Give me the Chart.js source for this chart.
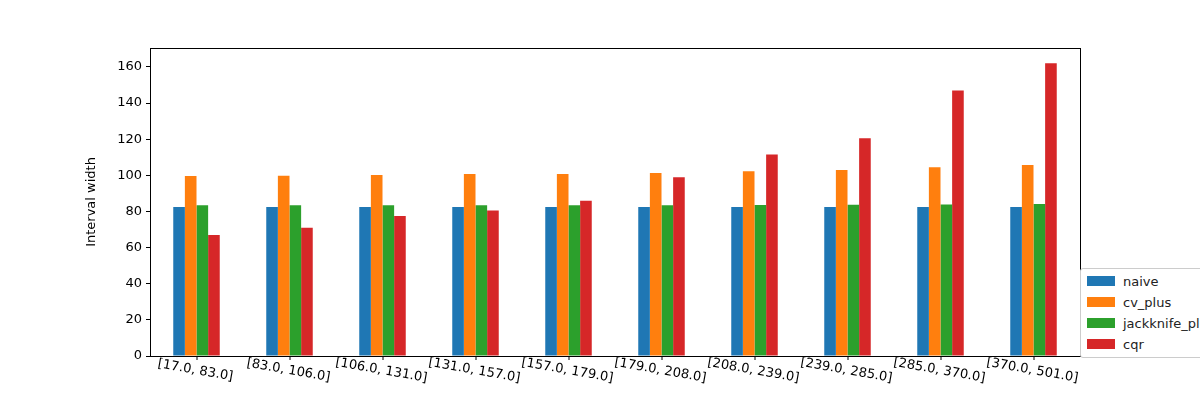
<!DOCTYPE html>
<html><head><script src="https://cdn.jsdelivr.net/npm/chart.js@4"></script>
<style>body{margin:0;width:1200px;height:400px;overflow:hidden;position:relative;font-family:"DejaVu Sans"}
#lg{position:absolute;left:1080px;top:268px;width:140px;height:88px;border:1px solid #ccc;border-radius:3px;background:#fff;font-size:13px;color:#222}
.it{position:absolute;left:6px;height:16px;display:flex;align-items:center;white-space:nowrap}
.sw{width:28px;height:10px;margin-right:8px}</style></head>
<body><canvas id="c" width="1200" height="400"></canvas><div id="lg"></div>
<script>
const categories=["[17.0, 83.0]","[83.0, 106.0]","[106.0, 131.0]","[131.0, 157.0]","[157.0, 179.0]","[179.0, 208.0]","[208.0, 239.0]","[239.0, 285.0]","[285.0, 370.0]","[370.0, 501.0]"];
const naive=[82.5,82.5,82.5,82.5,82.5,82.5,82.5,82.5,82.5,82.5];
const cv_plus=[99.7,99.8,100.2,100.8,100.8,101.3,102.3,103,104.5,105.8];
const jackknife_plus=[83.5,83.5,83.5,83.5,83.5,83.5,83.6,83.7,83.8,84.1];
const cqr=[67,71,77.5,80.5,86,99,111.5,120.5,147,162];
const yTicks=[0,20,40,60,80,100,120,140,160];
const names=["naive","cv_plus","jackknife_plus","cqr"];
const colors=["#1f77b4","#ff7f0e","#2ca02c","#d62728"];
const series=[naive,cv_plus,jackknife_plus,cqr];
const lg=document.getElementById('lg');
names.forEach((n,i)=>{const d=document.createElement('div');d.className='it';d.style.top=(4+i*21)+'px';d.innerHTML='<span class="sw" style="background:'+colors[i]+'"></span>'+n;lg.appendChild(d);});
Chart.defaults.font.family="DejaVu Sans";Chart.defaults.color="#000";
const deco={id:'deco',afterDraw(ch){const c=ch.ctx,a=ch.chartArea,x=ch.scales.x;
c.save();c.strokeStyle='#000';c.lineWidth=1;c.strokeRect(Math.round(a.left)+.5,Math.round(a.top)+.5,Math.round(a.width),Math.round(a.height));
c.font='13px DejaVu Sans';c.fillStyle='#000';c.textAlign='center';c.textBaseline='top';
categories.forEach((l,i)=>{const px=x.getPixelForValue(i);c.beginPath();c.moveTo(px+.5,a.bottom);c.lineTo(px+.5,a.bottom+4);c.stroke();
c.save();c.translate(px,a.bottom+8);c.rotate(10*Math.PI/180);c.fillText(l,0,0);c.restore();});
c.restore();}};
new Chart(document.getElementById('c'),{type:'bar',
data:{labels:categories,datasets:names.map((n,i)=>({label:n,data:series[i],backgroundColor:colors[i],categoryPercentage:0.5,barPercentage:1}))},
options:{responsive:false,animation:false,layout:{padding:{left:80,right:120,top:48,bottom:0}},
plugins:{legend:{display:false},tooltip:{enabled:false}},
scales:{x:{grid:{display:false},border:{display:false},ticks:{display:false},afterFit(s){s.height=44;}},
y:{min:0,max:170.5,afterBuildTicks(s){s.ticks=yTicks.map(v=>({value:v}));},afterFit(s){s.width=70;},
grid:{drawOnChartArea:false,tickLength:4,color:'#000'},border:{display:false},
ticks:{font:{size:13},padding:4},title:{display:true,text:'Interval width',font:{size:13},padding:{bottom:6}}}}},
plugins:[deco]});
</script></body></html>
